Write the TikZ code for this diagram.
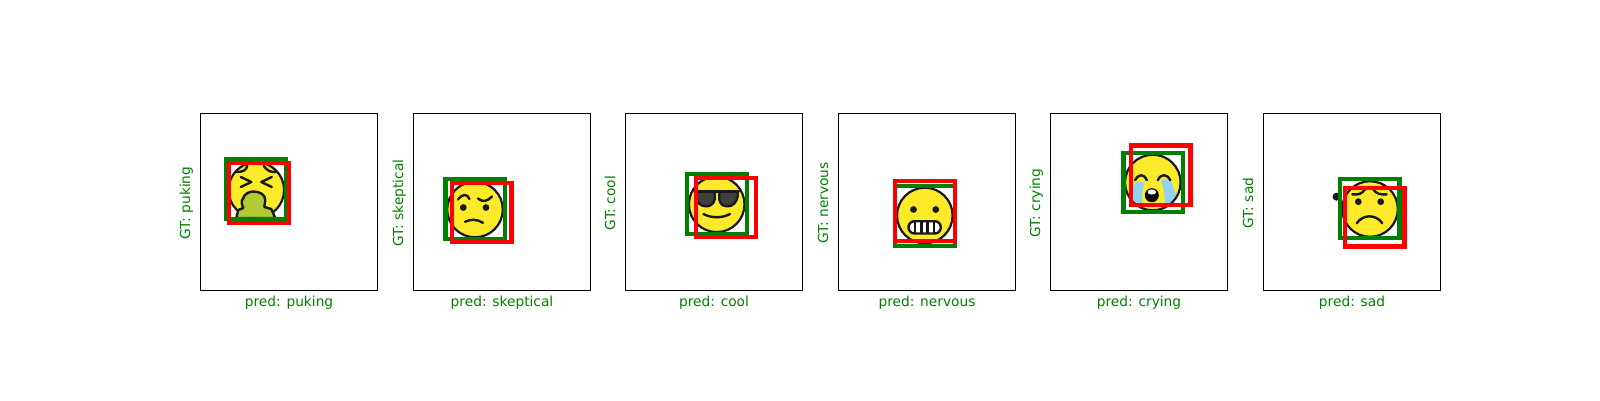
\documentclass[tikz,border=0pt]{standalone}
\usepackage{fontspec}
\setmainfont{DejaVu Sans}
\definecolor{mplgreen}{HTML}{008000}
\definecolor{emojiyellow}{HTML}{FCEA2B}
\definecolor{pukegreen}{HTML}{B1CC33}
\definecolor{tearblue}{HTML}{92D3F5}
\definecolor{lens}{HTML}{3F3F3F}
\tikzset{
  axframe/.style={draw=black,line width=1.1pt},
  lab/.style={text=mplgreen,font=\fontsize{13.75}{16}\selectfont,inner sep=0pt,text height=10.5pt,text depth=3.3pt},
  gtbox/.style={draw=mplgreen,line width=4.2pt},
  predbox/.style={draw=red,line width=4.2pt},
  head/.style={draw=black!90,fill=emojiyellow,line width=2.2pt},
  feat/.style={draw=black!90,line width=2.4pt,line cap=round,line join=round},
  eye/.style={fill=black!90},
}
\newcommand{\axpanel}[4]{% name, left, gt, pred
  \draw[axframe] (#2,113.5) rectangle ++(177,177);
  \node[lab,rotate=90,anchor=south] (gt#1) at (#2-6.8,203) {GT: #3};
  \node[lab,anchor=north] (pred#1) at (#2+88.5,295.9) {pred: #4};
}
\newcommand{\bbox}[5]{% style, x0,x1,y0,y1 outer
  \draw[#1] ({#2+2.8},{#4+2.8}) rectangle ({#3-2.8},{#5-2.8});
}
\begin{document}
\begin{tikzpicture}[x=1pt,y=-1pt]
\useasboundingbox (0,0) rectangle (1600,400);
\fill[white] (0,0) rectangle (1600,400);

\axpanel{a}{200.5}{puking}{puking}
\axpanel{b}{413.5}{skeptical}{skeptical}
\axpanel{c}{625.5}{cool}{cool}
\axpanel{d}{838.5}{nervous}{nervous}
\axpanel{e}{1050.5}{crying}{crying}
\axpanel{f}{1263.5}{sad}{sad}

% puking
\begin{scope}[shift={(256.3,190)}]
  \draw[head] (0,0) circle[radius=27.8pt];
  \draw[feat] (-19.5,-18) .. controls (-13,-18) and (-10,-20) .. (-9,-24);
  \draw[feat] (7.5,-24) .. controls (12,-18) and (15,-18) .. (19.5,-18);
  \draw[feat] (-15.5,-13) -- (-5,-8) -- (-15.5,-3);
  \draw[feat] (15.5,-13) -- (5,-8) -- (15.5,-3);
  \draw[feat,fill=pukegreen] (-20,28) -- (-18,20) -- (-13,18) .. controls (-15,14) and (-15,10) .. (-13.5,9) .. controls (-12,3) and (-6,1.5) .. (-3,1.5) .. controls (4,1.5) and (9,5) .. (9,10) -- (8,17) -- (15,19) -- (19,28) -- cycle;
\end{scope}
\bbox{gtbox}{223.3}{289}{156}{221.7}
\bbox{predbox}{226}{291.7}{160}{225.7}

% skeptical
\begin{scope}[shift={(475,209.5)}]
  \draw[head] (0,0) circle[radius=27.8pt];
  \fill[eye] (-11.7,-2) circle[radius=3.4pt] (11,-2) circle[radius=3.4pt];
  \draw[feat] (-17,-10) .. controls (-12,-16) and (-8,-16) .. (-5.5,-10.5);
  \draw[feat] (3,-11) .. controls (8,-7) and (12,-8) .. (17,-13);
  \draw[feat] (-10,12.3) .. controls (-4,9.5) and (2,9.5) .. (8,13.3);
\end{scope}
\bbox{gtbox}{442.7}{507.7}{176}{241.7}
\bbox{predbox}{449.3}{514.3}{180}{245}

% cool
\begin{scope}[shift={(716.7,204.3)}]
  \draw[head] (0,0) circle[radius=27.8pt];
  \draw[feat,fill=lens] (-21,-13) -- (-2,-13) -- (-2,-5) .. controls (-3,1) and (-8,2) .. (-11,2) .. controls (-16,2) and (-20,-2) .. (-21,-8) -- cycle;
  \draw[feat,fill=lens] (21,-13) -- (2.5,-13) -- (2.5,-5) .. controls (3.5,1) and (8,2) .. (11,2) .. controls (16,2) and (20,-2) .. (21,-8) -- cycle;
  \draw[feat] (-22,-13) -- (22,-13);
  \draw[feat] (-13.3,9.7) .. controls (-5,14) and (5,14) .. (13.3,9.7);
\end{scope}
\bbox{gtbox}{684}{750}{171}{236.7}
\bbox{predbox}{693.3}{758.7}{175}{240}

% nervous
\begin{scope}[shift={(924.8,215.5)}]
  \draw[head] (0,0) circle[radius=27.8pt];
  \fill[eye] (-11.3,-6) circle[radius=3.4pt] (11,-6) circle[radius=3.4pt];
  \draw[feat,fill=white,rounded corners=6pt] (-16.3,5.7) rectangle (16,18);
  \draw[feat,line cap=butt] (-9.7,5.7) -- (-9.7,18) (-3.5,5.7) -- (-3.5,18) (2.8,5.7) -- (2.8,18) (9,5.7) -- (9,18);
\end{scope}
\bbox{gtbox}{892.3}{957.7}{183.3}{249}
\bbox{predbox}{892.3}{957.7}{178.3}{244}

% crying
\begin{scope}[shift={(1152.8,182.5)}]
  \draw[head] (0,0) circle[radius=27.8pt];
  \fill[tearblue] (-17,-1) -- (-8,-1) .. controls (-11,8) and (-11,16) .. (-10,24) .. controls (-15,22) and (-21,17) .. (-22.5,12) -- cycle;
  \fill[tearblue] (8,-3) -- (18,-3) -- (23,12) .. controls (21,17) and (16,22) .. (12,24) .. controls (12,14) and (11,6) .. (8,-3) -- cycle;
  \draw[feat] (-17.7,-2.3) .. controls (-14,-9) and (-9,-9) .. (-6,-2.3);
  \draw[feat] (5,-2.3) .. controls (8,-9) and (14,-9) .. (17.5,-2.3);
  \fill[black] (-1,12.7) circle[radius=7pt];
  \fill[white] (-1,9.5) ellipse[x radius=4.3pt,y radius=2.6pt];
\end{scope}
\bbox{gtbox}{1120.7}{1185.7}{150}{215}
\bbox{predbox}{1128.3}{1193.3}{142.7}{207.7}

% sad
\fill[black!90] (1336.5,196.7) circle[radius=4pt];
\begin{scope}[shift={(1370,209)}]
  \draw[head] (0,0) circle[radius=27.8pt];
  \fill[eye] (-11.7,-7.3) circle[radius=3.4pt] (10.7,-7.3) circle[radius=3.4pt];
  \draw[feat] (-17.7,-14.7) .. controls (-12,-14) and (-8,-15) .. (-5,-19.7);
  \draw[feat] (3.3,-19.7) .. controls (6,-15) and (11,-14) .. (16.7,-14.7);
  \draw[feat] (-13.3,14.3) .. controls (-7,5) and (6,5) .. (12.3,14.3);
\end{scope}
\bbox{gtbox}{1337.3}{1402.3}{176}{241}
\bbox{predbox}{1342.3}{1407.3}{185}{249.3}
\end{tikzpicture}
\end{document}
